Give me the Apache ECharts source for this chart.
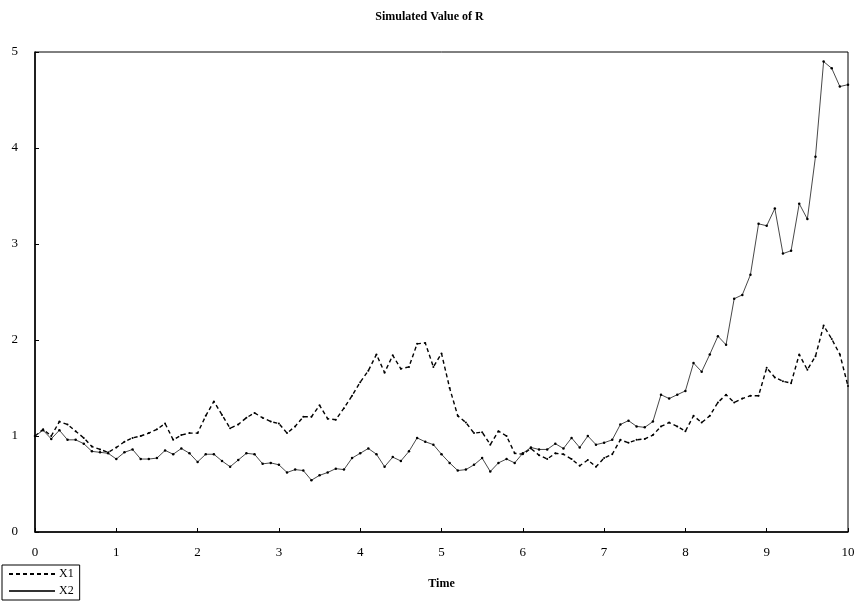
<!DOCTYPE html>
<html>
<head>
<meta charset="utf-8">
<script src="https://cdn.jsdelivr.net/npm/echarts@6/dist/echarts.min.js"></script>
<style>html,body{margin:0;padding:0;background:#fff}#c{width:859px;height:612px}</style>
</head>
<body>
<div id="c"></div>
<script>
const titleText = "Simulated Value of R";
const xName = "Time";
const seriesNames = ["X1", "X2"];
const timeStep = 0.1;
const x1Values = [
1.00,1.07,1.00,1.15,1.12,1.05,0.98,0.89,0.86,0.83,
0.88,0.94,0.98,1.00,1.03,1.07,1.13,0.96,1.01,1.03,
1.03,1.21,1.36,1.22,1.08,1.12,1.19,1.24,1.19,1.15,
1.13,1.03,1.10,1.20,1.20,1.32,1.18,1.17,1.29,1.42,
1.56,1.68,1.85,1.66,1.84,1.70,1.72,1.96,1.97,1.72,
1.86,1.50,1.21,1.14,1.03,1.04,0.91,1.05,1.00,0.82,
0.81,0.87,0.80,0.76,0.82,0.81,0.76,0.69,0.75,0.68,
0.77,0.81,0.96,0.93,0.96,0.97,1.01,1.10,1.14,1.10,
1.05,1.21,1.14,1.21,1.35,1.43,1.35,1.39,1.42,1.42,
1.71,1.61,1.57,1.55,1.85,1.69,1.83,2.15,2.01,1.85,
1.52];
const x2Values = [
1.00,1.06,0.97,1.06,0.96,0.96,0.92,0.84,0.83,0.82,
0.76,0.83,0.86,0.76,0.76,0.77,0.85,0.81,0.87,0.82,
0.73,0.81,0.81,0.74,0.68,0.75,0.82,0.81,0.71,0.72,
0.70,0.62,0.65,0.64,0.54,0.59,0.62,0.66,0.65,0.77,
0.82,0.87,0.81,0.68,0.78,0.74,0.84,0.98,0.94,0.91,
0.81,0.72,0.64,0.65,0.70,0.77,0.63,0.72,0.76,0.72,
0.82,0.88,0.86,0.86,0.92,0.87,0.98,0.88,1.00,0.91,
0.93,0.96,1.12,1.16,1.10,1.09,1.15,1.43,1.39,1.43,
1.47,1.76,1.67,1.85,2.04,1.95,2.43,2.47,2.68,3.21,
3.19,3.37,2.90,2.93,3.42,3.26,3.91,4.90,4.83,4.64,
4.66];

const pairs = vals => vals.map((v, i) => [+(i * timeStep).toFixed(1), v]);
const serif = "'Liberation Serif','DejaVu Serif',serif";

const chart = echarts.init(document.getElementById('c'), null, {renderer: 'canvas'});
chart.setOption({
  animation: false,
  backgroundColor: '#fff',
  title: {
    text: titleText, left: 'center', top: 6,
    textStyle: {fontFamily: serif, fontSize: 12, fontWeight: 'bold', color: '#000'}
  },
  legend: {
    left: 2, top: 565, orient: 'vertical',
    data: seriesNames,
    itemWidth: 46, itemHeight: 8, itemGap: 5,
    padding: [3, 6, 3, 6],
    borderColor: '#000', borderWidth: 1,
    itemStyle: {opacity: 0},
    textStyle: {fontFamily: serif, fontSize: 12, color: '#000', padding: [0, 0, 0, -1]}
  },
  grid: {
    left: 35, right: 11, top: 52, bottom: 80,
    show: true, borderColor: '#000', borderWidth: 1, backgroundColor: '#fff'
  },
  xAxis: {
    type: 'value', min: 0, max: 10, interval: 1,
    name: xName, nameLocation: 'middle', nameGap: 46,
    nameTextStyle: {fontFamily: serif, fontSize: 12, fontWeight: 'bold', color: '#000'},
    axisLine: {lineStyle: {color: '#000', width: 1.5}},
    axisTick: {inside: true, length: 4, lineStyle: {color: '#000'}},
    axisLabel: {fontFamily: serif, fontSize: 13, color: '#000', margin: 14},
    splitLine: {show: false}
  },
  yAxis: {
    type: 'value', min: 0, max: 5, interval: 1,
    axisLine: {show: true, lineStyle: {color: '#000', width: 1.5}},
    axisTick: {show: true, inside: true, length: 4, lineStyle: {color: '#000'}},
    axisLabel: {fontFamily: serif, fontSize: 13, color: '#000', margin: 17},
    splitLine: {show: false}
  },
  series: [
    {
      name: seriesNames[0], type: 'line', data: pairs(x1Values),
      symbol: 'circle', symbolSize: 2, showSymbol: true,
      itemStyle: {color: '#000'},
      lineStyle: {color: '#000', width: 1.4, type: [4, 3]}
    },
    {
      name: seriesNames[1], type: 'line', data: pairs(x2Values),
      symbol: 'circle', symbolSize: 2.5, showSymbol: true,
      itemStyle: {color: '#000'},
      lineStyle: {color: '#333', width: 0.9}
    }
  ]
});
</script>
</body>
</html>
